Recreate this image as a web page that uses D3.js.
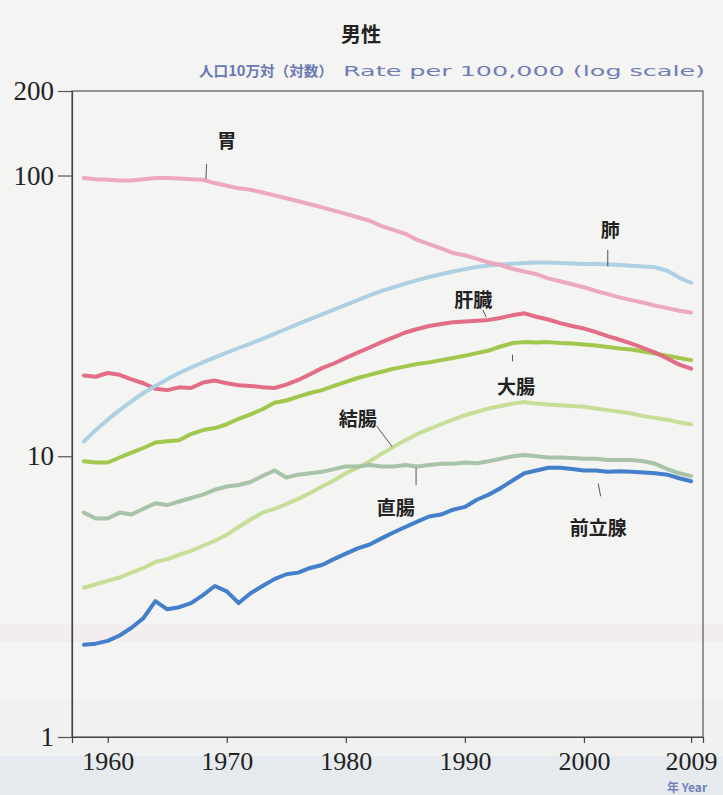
<!DOCTYPE html>
<html><head><meta charset="utf-8">
<script src="https://cdn.jsdelivr.net/npm/d3@7/dist/d3.min.js"></script>
<style>html,body{margin:0;padding:0;background:#f4f4f2;}svg{display:block;}</style>
</head><body>
<svg id="chart" width="723" height="795"></svg>
<script>
const startYear = 1958;
const years = d3.range(startYear, 2010);
const xTicks = [1960, 1970, 1980, 1990, 2000, 2009];
const yTicks = [1, 10, 100, 200];

const stomach = [98,97,96.5,96,96,97,98,98,97.5,97,96.5,94,
  92,90,89,87,85,83,81,79,77,75,
  73,71,69,66,64,62,59,57,55,53,
  52,50.5,49,48,46.5,45.5,44.5,43,42,41,
  40,38.8,37.8,36.8,36,35.2,34.4,33.7,33,32.5];
const lung = [11.3,12.4,13.5,14.6,15.7,16.8,17.8,18.8,19.8,20.7,21.6,22.5,
  23.4,24.3,25.2,26.2,27.3,28.4,29.6,30.8,32,33.3,
  34.6,36,37.4,38.8,40,41.2,42.4,43.5,44.5,45.5,
  46.4,47.2,47.8,48.2,48.5,48.8,49,49,48.8,48.6,
  48.4,48.5,48.2,48,47.7,47.4,47.1,45.8,43.3,41.5];
const liver = [19.4,19.2,19.8,19.5,18.8,18.2,17.4,17.2,17.6,17.5,18.3,18.6,
  18.2,17.9,17.8,17.6,17.5,18.0,18.7,19.6,20.6,21.4,
  22.4,23.4,24.4,25.5,26.5,27.6,28.4,29.1,29.6,30.0,
  30.2,30.4,30.6,31.1,31.8,32.3,31.4,30.7,29.8,29.1,
  28.5,27.7,26.8,26.0,25.2,24.3,23.4,22.3,21.2,20.5];
const largeIntestine = [9.6,9.5,9.5,9.9,10.3,10.7,11.2,11.3,11.4,12.0,12.4,12.6,
  13.0,13.6,14.1,14.7,15.5,15.8,16.3,16.8,17.2,17.8,
  18.4,19.0,19.5,20.0,20.5,20.9,21.3,21.6,22.0,22.4,
  22.8,23.3,23.8,24.6,25.3,25.5,25.4,25.5,25.3,25.2,
  25.0,24.8,24.5,24.2,24.0,23.6,23.2,22.8,22.4,22.0];
const colon = [3.4,3.5,3.6,3.7,3.85,4.0,4.2,4.3,4.45,4.6,4.8,5.0,
  5.25,5.6,5.95,6.3,6.5,6.75,7.05,7.4,7.8,8.2,
  8.7,9.1,9.6,10.2,10.8,11.4,12.0,12.5,13.0,13.5,
  14.0,14.4,14.8,15.1,15.4,15.6,15.4,15.3,15.2,15.1,
  15.0,14.8,14.6,14.4,14.2,13.9,13.7,13.5,13.2,13.0];
const rectum = [6.3,6.0,6.0,6.3,6.2,6.5,6.8,6.7,6.9,7.1,7.3,7.6,
  7.8,7.9,8.1,8.5,8.9,8.4,8.6,8.7,8.8,9.0,
  9.2,9.2,9.3,9.2,9.2,9.3,9.2,9.3,9.4,9.4,
  9.5,9.45,9.6,9.8,10.0,10.1,10.0,9.9,9.9,9.85,
  9.8,9.8,9.7,9.7,9.7,9.6,9.4,9.0,8.7,8.5];
const prostate = [2.13,2.15,2.2,2.3,2.45,2.65,3.05,2.85,2.9,3.0,3.2,3.45,
  3.3,3.0,3.25,3.45,3.65,3.8,3.85,4.0,4.1,4.3,
  4.5,4.7,4.85,5.1,5.35,5.6,5.85,6.1,6.2,6.45,
  6.6,7.0,7.3,7.7,8.2,8.7,8.9,9.1,9.1,9.0,
  8.9,8.9,8.8,8.85,8.8,8.75,8.7,8.6,8.35,8.15];

const seriesNames = ["胃","肺","肝臓","大腸","結腸","直腸","前立腺"];
const seriesValues = [stomach, lung, liver, largeIntestine, colon, rectum, prostate];
const seriesColors = ["#eba4bb","#a9cde0","#e2647f","#9dc443","#c4dc92","#a3c0a3","#3a78c8"];

// label anchors in data units: [year, value], leader from [year,value] to [year,value]
const labelYear = [1970.0, 2002.2, 1990.7, 1994.3, 1981.0, 1984.2, 2001.2];
const labelValue = [134, 65, 36.6, 17.9, 13.7, 6.6, 5.6];
const leaderYear1 = [1968.3, 2002.0, 1991.5, 1994.0, 1982.6, 1985.9, 2001.2];
const leaderValue1 = [110, 54.3, 33.2, 23.0, 12.8, 9.1, 8.0];
const leaderYear2 = [1968.25, 2002.0, 1991.8, 1994.0, 1983.9, 1985.9, 2001.4];
const leaderValue2 = [97, 47.5, 31.3, 21.8, 10.8, 7.9, 7.2];

const svg = d3.select("#chart");
const W = 723, H = 795;
const mLeft = 72, mRight = 703, mTop = 91, mBottom = 737;

// paper background
svg.append("rect").attr("width", W).attr("height", H).attr("fill", "#f4f4f2");
svg.append("rect").attr("x", 0).attr("y", 624).attr("width", W).attr("height", 18).attr("fill", "#f3edef");
svg.append("rect").attr("x", 0).attr("y", 700).attr("width", W).attr("height", 95).attr("fill", "#f0f1f1");
svg.append("rect").attr("x", 0).attr("y", 756).attr("width", W).attr("height", 39).attr("fill", "#e6eaee");

const x = d3.scaleLinear().domain([1957, 2010]).range([mLeft, mRight]);
const y = d3.scaleLog().domain([1, 200]).range([mBottom, mTop]);

// frame
svg.append("rect").attr("x", mLeft).attr("y", mTop).attr("width", mRight - mLeft).attr("height", mBottom - mTop)
  .attr("fill", "none").attr("stroke", "#555").attr("stroke-width", 1.2);

// y axis
const yAxis = d3.axisLeft(y).tickValues(yTicks).tickFormat(d3.format("d")).tickSize(14).tickPadding(4);
const gy = svg.append("g").attr("transform", `translate(${mLeft},0)`).call(yAxis);
gy.select(".domain").attr("stroke", "#444").attr("stroke-width", 1.2);
gy.selectAll(".tick line").attr("stroke", "#555").attr("stroke-width", 1.2);
gy.selectAll(".tick text").attr("font-family", "'Liberation Serif', 'DejaVu Serif', serif")
  .attr("font-size", 27).attr("fill", "#222");

// x axis
const xAxis = d3.axisBottom(x).tickValues(xTicks).tickFormat(d3.format("d")).tickSize(6).tickPadding(9);
const gx = svg.append("g").attr("transform", `translate(0,${mBottom})`).call(xAxis);
gx.select(".domain").attr("stroke", "#444").attr("stroke-width", 1.2);
gx.selectAll(".tick line").attr("stroke", "#444").attr("stroke-width", 1.2);
gx.selectAll(".tick text").attr("font-family", "'Liberation Serif', 'DejaVu Serif', serif")
  .attr("font-size", 26).attr("fill", "#222");

// lines
const line = d3.line().x((d, i) => x(years[i])).y(d => y(d)).curve(d3.curveLinear);
const drawOrder = [4, 5, 3, 2, 1, 0, 6];
drawOrder.forEach(k => {
  svg.append("path").datum(seriesValues[k]).attr("d", line)
    .attr("fill", "none").attr("stroke", seriesColors[k]).attr("stroke-width", 4)
    .attr("stroke-linejoin", "round").attr("stroke-linecap", "round").attr("opacity", 0.95);
});

// leaders and labels
seriesNames.forEach((name, k) => {
  svg.append("line")
    .attr("x1", x(leaderYear1[k])).attr("y1", y(leaderValue1[k]))
    .attr("x2", x(leaderYear2[k])).attr("y2", y(leaderValue2[k]))
    .attr("stroke", "#555").attr("stroke-width", 1);
  svg.append("text").attr("x", x(labelYear[k])).attr("y", y(labelValue[k]))
    .attr("text-anchor", "middle").attr("dominant-baseline", "central")
    .attr("font-family", "'Noto Sans CJK JP', sans-serif").attr("font-weight", 700)
    .attr("font-size", 19).attr("fill", "#222").text(name);
});

// title and subtitles
svg.append("text").attr("x", 361).attr("y", 42).attr("text-anchor", "middle")
  .attr("font-family", "'Noto Sans CJK JP', sans-serif").attr("font-weight", 700)
  .attr("font-size", 20).attr("fill", "#222").text("男性");
svg.append("text").attr("x", 199).attr("y", 76)
  .attr("font-family", "'Noto Sans CJK JP', sans-serif").attr("font-weight", 700)
  .attr("font-size", 14).attr("fill", "#6878b4").attr("textLength", 134).attr("lengthAdjust", "spacingAndGlyphs")
  .text("人口10万対（対数）");
svg.append("text").attr("x", 343).attr("y", 76)
  .attr("font-family", "'DejaVu Sans', sans-serif").attr("font-weight", 400)
  .attr("font-size", 14).attr("fill", "#6f7db8").attr("textLength", 362).attr("lengthAdjust", "spacingAndGlyphs")
  .text("Rate per 100,000 (log scale)");
svg.append("text").attr("x", 667).attr("y", 792)
  .attr("font-family", "'Noto Sans CJK JP', sans-serif").attr("font-weight", 700)
  .attr("font-size", 12).attr("fill", "#7482bc").text("年 Year");
</script>
</body></html>
